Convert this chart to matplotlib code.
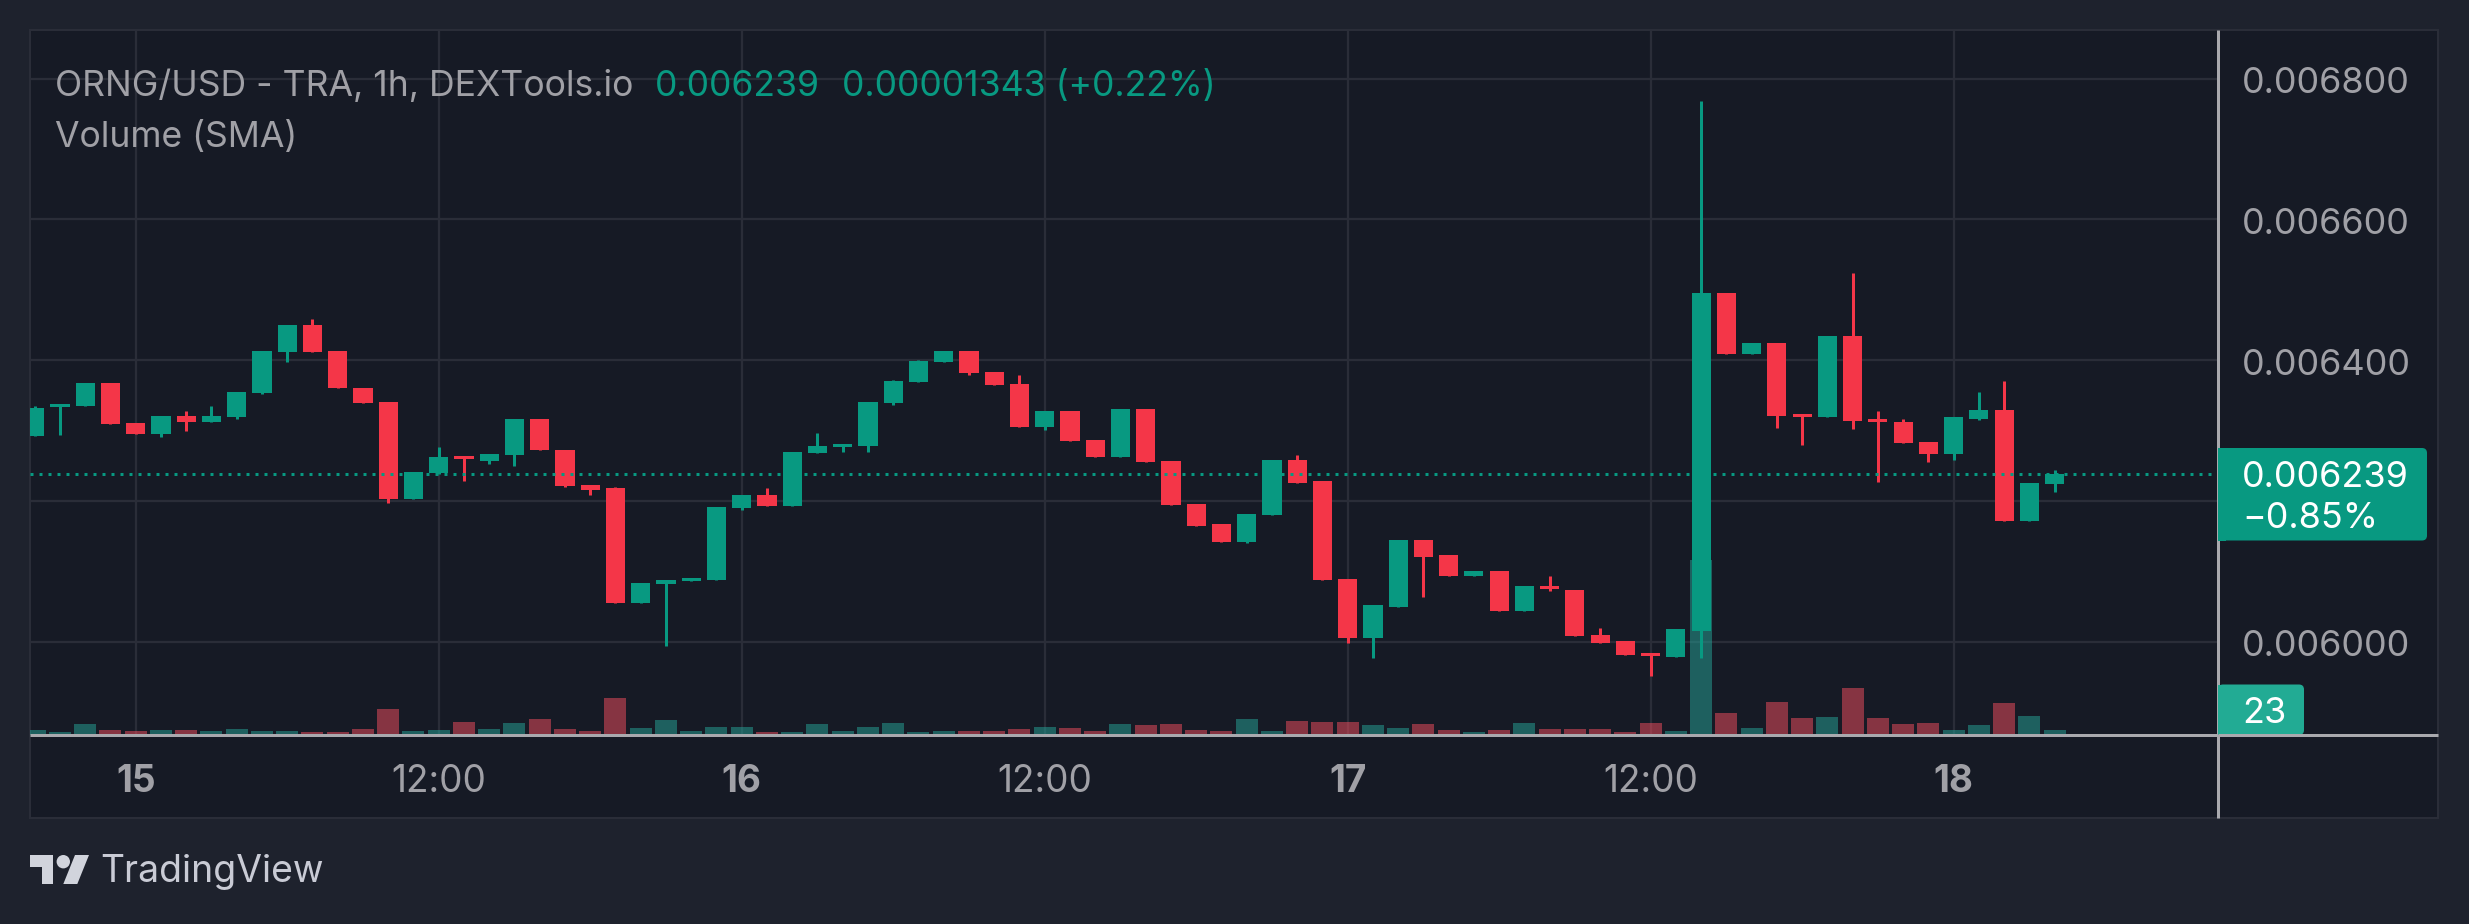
import matplotlib
matplotlib.use("Agg")
import matplotlib.pyplot as plt
from matplotlib.patches import Rectangle, Polygon, Circle, FancyBboxPatch
from matplotlib.transforms import ScaledTranslation
import numpy as np

plt.rcParams['font.family'] = ['Inter', 'DejaVu Sans']

# --- data (prices in millionths of a USD, one candle per hour) ---
opens = [6293,6334,6335,6368,6311,6296,6321,6313,6320,6354,6412,6450,6413,6361,6341,6203,6240,6264,6257,6266,
         6316,6273,6223,6218,6056,6083,6087,6088,6191,6209,6193,6269,6277,6279,6340,6369,6398,6413,6384,6367,
         6306,6328,6287,6263,6331,6257,6196,6167,6142,6181,6259,6228,6090,6006,6050,6145,6123,6094,6101,6044,
         6080,6074,6010,6001,5985,5979,6016,6496,6409,6425,6324,6319,6435,6317,6313,6284,6267,6317,6330,6172,6225]
closes = [6333,6338,6368,6310,6296,6321,6313,6321,6355,6413,6450,6412,6360,6340,6203,6242,6263,6260,6267,6316,
          6272,6222,6216,6056,6084,6088,6091,6192,6209,6193,6270,6279,6281,6341,6371,6399,6413,6382,6365,6306,
          6328,6286,6263,6331,6256,6195,6165,6142,6182,6259,6226,6088,6006,6052,6145,6121,6094,6101,6044,6079,
          6076,6009,5999,5982,5980,6018,6496,6409,6425,6321,6320,6435,6314,6313,6283,6267,6319,6330,6172,6226,6239]
highs = [6335,6338,6368,6368,6311,6321,6328,6335,6355,6413,6450,6459,6413,6361,6341,6242,6277,6264,6267,6316,
         6316,6273,6223,6220,6084,6088,6091,6192,6209,6219,6270,6297,6281,6341,6372,6401,6413,6413,6384,6379,
         6328,6328,6287,6331,6331,6257,6196,6167,6182,6259,6266,6228,6090,6052,6145,6145,6123,6101,6101,6079,
         6094,6074,6020,6001,5985,6018,6768,6496,6425,6425,6324,6435,6524,6328,6317,6284,6319,6355,6370,6226,6244]
lows = [6293,6294,6335,6310,6296,6291,6300,6313,6316,6352,6398,6412,6360,6340,6198,6203,6239,6228,6253,6250,
        6272,6220,6209,6056,6056,5995,6087,6088,6188,6193,6193,6269,6270,6270,6337,6369,6398,6379,6365,6306,
        6301,6286,6263,6263,6256,6195,6165,6142,6141,6181,6226,6088,5998,5978,6050,6064,6094,6094,6044,6044,
        6072,6009,5999,5982,5952,5979,5978,6409,6409,6304,6280,6319,6303,6227,6283,6256,6259,6315,6172,6172,6213]
volumes = [23,14,51,23,18,23,23,18,28,18,18,14,14,28,120,18,23,60,28,55,74,28,18,170,32,69,18,37,37,14,14,51,18,37,55,
           14,18,18,18,28,37,32,18,51,46,51,23,18,74,18,64,60,60,46,32,51,23,14,23,57,28,28,28,14,55,18,805,101,32,152,
           78,85,216,78,51,55,23,46,147,87,23]
price_ticks = [0.0060, 0.0062, 0.0064, 0.0066, 0.0068]
price_labels = ['0.006000', '', '0.006400', '0.006600', '0.006800']  # 0.006200 sits under the last-price tag
hour_ticks = [4, 16, 28, 40, 52, 64, 76]
hour_labels = ['15', '12:00', '16', '12:00', '17', '12:00', '18']
last_price = 0.006239
last_pct = '\u22120.85%'
last_volume = 23

W, H = 2469, 924
OUTER, PANEL = '#1e222d', '#161a25'
GRID, AXIS, TXT = '#2a2d38', '#a9a9ae', '#a0a0a6'
GREEN, RED = '#089981', '#F43648'
VGREEN, VRED = '#26A69A', '#F64E5F'
PX = 0.72  # points per pixel at dpi=100

fig = plt.figure(figsize=(W / 100, H / 100), dpi=100, facecolor=OUTER)

def pixel_axes(z):
    a = fig.add_axes([0, 0, 1, 1], zorder=z)
    a.set_xlim(0, W); a.set_ylim(H, 0); a.axis('off'); a.patch.set_alpha(0)
    return a

bg = pixel_axes(0)
bg.add_patch(Rectangle((30, 30), 2408, 788, fc=PANEL, ec=GRID, lw=2 * PX))

L, R, T, B = 30, 2218, 30, 735
pos = [L / W, 1 - B / H, (R - L) / W, (B - T) / H]
ylim = (0.005868, 0.006869)
xlim = (-0.186, 86.47)
vol_top = 3243

base = fig.add_axes(pos, zorder=1); base.patch.set_alpha(0)
vol = fig.add_axes(pos, zorder=2); vol.patch.set_alpha(0); vol.axis('off')
px = fig.add_axes(pos, zorder=3); px.patch.set_alpha(0); px.axis('off')

for a in (base, vol, px):
    a.set_xlim(*xlim)
base.set_ylim(*ylim); px.set_ylim(*ylim)
vol.set_ylim(0, vol_top)

for s in base.spines.values():
    s.set_visible(False)
base.yaxis.tick_right()
base.set_yticks(price_ticks, price_labels)
base.set_xticks(hour_ticks, hour_labels)
base.tick_params(axis='y', length=0, pad=17, labelsize=36 * PX, labelcolor=TXT)
base.tick_params(axis='x', length=0, pad=21, labelsize=37 * PX, labelcolor=TXT)
shift = ScaledTranslation(0, -1.2 / 100, fig.dpi_scale_trans)
for lab in base.get_yticklabels():
    lab.set_transform(lab.get_transform() + shift)
for lab, txt in zip(base.get_xticklabels(), hour_labels):
    if ':' not in txt:
        lab.set_fontweight('bold')
base.grid(True, color=GRID, lw=2.3 * PX)
base.set_axisbelow(True)

o, c, h, l = [np.array(s) * 1e-6 for s in (opens, closes, highs, lows)]
x = np.arange(len(o))
up = c >= o
colors = [GREEN if u else RED for u in up]

vol.bar(x, volumes, width=0.87, color=[VGREEN if u else VRED for u in up], alpha=0.5, lw=0)
px.vlines(x, l, h, colors=colors, lw=3 * PX, zorder=3)
px.bar(x, np.abs(c - o), bottom=np.minimum(o, c), width=0.76, color=colors, lw=0, zorder=4)
px.axhline(last_price, color=GREEN, lw=3 * PX, ls=(0, (1, 2)), zorder=5, dash_capstyle='butt')

ov = pixel_axes(10)
ov.plot([R, R], [30, 818], color=AXIS, lw=3 * PX, solid_capstyle='butt')
ov.plot([30, 2438], [735, 735], color=AXIS, lw=3 * PX, solid_capstyle='butt')

def tag(x0, x1, y0, y1, color):
    ov.add_patch(FancyBboxPatch((x0 + 5, y0 + 5), x1 - x0 - 10, y1 - y0 - 10,
                                boxstyle='round,pad=5,rounding_size=5', fc=color, ec='none', zorder=3))
    ov.add_patch(Rectangle((x0, y0), 8, y1 - y0, fc=color, ec='none', zorder=3))

tag(2218, 2427, 448, 540.5, GREEN)
tag(2218, 2304, 684.5, 735, '#22AB94')
ov.plot([R, 2304], [735, 735], color=AXIS, lw=3 * PX, solid_capstyle='butt', zorder=4)
ov.text(2242, 486.7, f'{last_price:.6f}', color='white', fontsize=36 * PX, va='baseline', zorder=5)
ov.text(2242, 528, last_pct, color='white', fontsize=36 * PX, va='baseline', zorder=5)
ov.text(2242, 722.7, str(last_volume), color='white', fontsize=36 * PX, va='baseline', zorder=5)

fs = 35.6 * PX
ov.text(55, 96, 'ORNG/USD - TRA, 1h, DEXTools.io', color=TXT, fontsize=fs, va='baseline')
ov.text(655, 96, '0.006239', color=GREEN, fontsize=fs, va='baseline')
ov.text(842, 96, '0.00001343 (+0.22%)', color=GREEN, fontsize=fs, va='baseline')
ov.text(55, 147, 'Volume (SMA)', color=TXT, fontsize=fs, va='baseline')

LOGO = '#D1D4DC'
ov.add_patch(Polygon([(30, 855), (53.3, 855), (53.3, 884), (41.7, 884), (41.7, 866.7), (30, 866.7)], fc=LOGO, ec='none'))
ov.add_patch(Circle((63.3, 861.7), 6.7, fc=LOGO, ec='none'))
ov.add_patch(Polygon([(89, 855), (77.3, 884), (63.3, 884), (75, 855)], fc=LOGO, ec='none'))
ov.text(100, 882, 'TradingView', color='#C9CBD5', fontsize=37.4 * PX, va='baseline')

fig.savefig('out.png', dpi=100, facecolor=OUTER)
